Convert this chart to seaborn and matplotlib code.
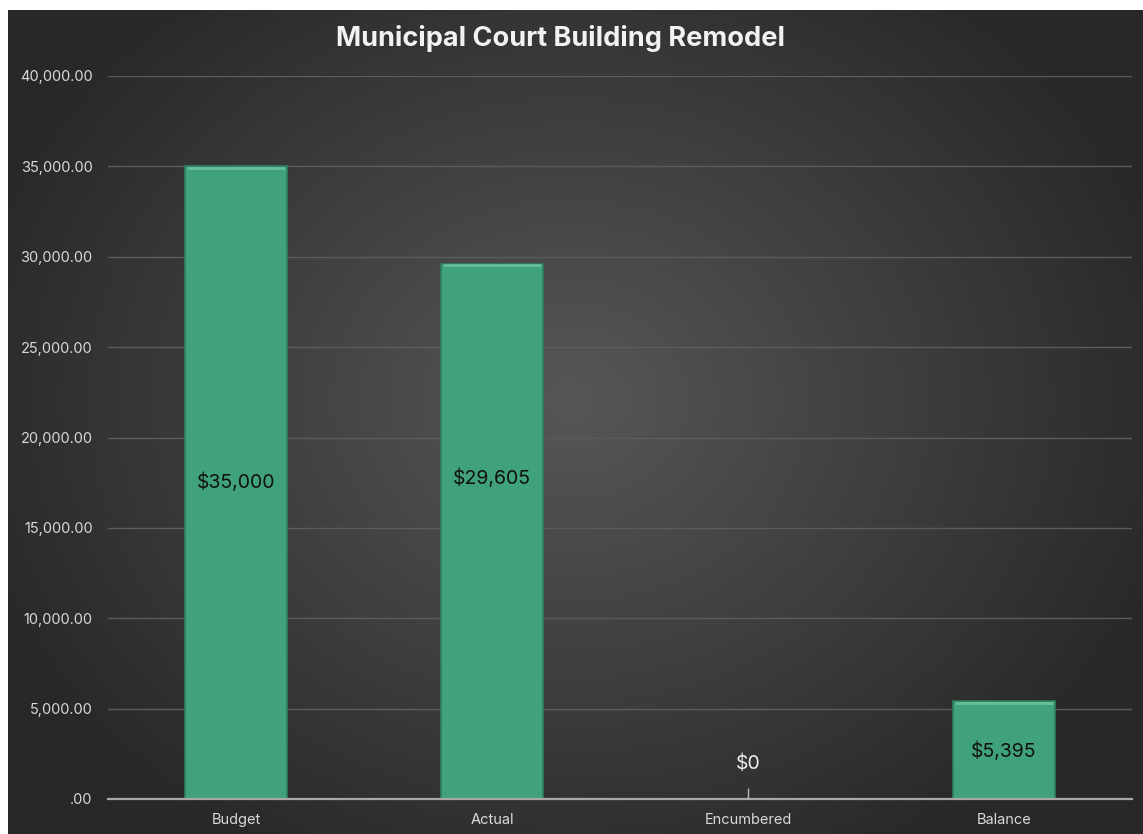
import numpy as np
import pandas as pd
import seaborn as sns
import matplotlib.pyplot as plt
from matplotlib.ticker import FuncFormatter

# Chart data
categories = ["Budget", "Actual", "Encumbered", "Balance"]
amounts = [35000, 29605, 0, 5395]
# where each value label sits, as a fraction of its bar height
label_frac = [0.5, 0.6, None, 0.49]

title = "Municipal Court Building Remodel"

bar_color = "#40a27b"
edge_color = "#2f7f60"
text_light = "#d9d9d9"

sns.set_theme(style="dark")
plt.rcParams["font.family"] = ["Inter", "DejaVu Sans"]

fig = plt.figure(figsize=(11.43, 8.34), dpi=100)
W, H = 1143, 834

# Background: white border at top/left, dark radial gradient panel
bg = fig.add_axes([0, 0, 1, 1], zorder=-10)
bg.set_axis_off()
yy, xx = np.mgrid[0:H, 0:W]
cx, cy = 570, 400
r = np.sqrt(((xx - cx) / 620.0) ** 2 + ((yy - cy) / 520.0) ** 2)
shade = np.clip(0.34 - 0.18 * r, 0.16, 0.34)
img = np.dstack([shade, shade, shade])
img[:10, :, :] = 1.0
img[:, :8, :] = 1.0
bg.imshow(img, extent=[0, W, H, 0], aspect="auto", interpolation="bilinear")
bg.set_xlim(0, W)
bg.set_ylim(H, 0)

# Plot area
left, right = 108 / W, 1132 / W
bottom, top = (H - 799) / H, (H - 76) / H
ax = fig.add_axes([left, bottom, right - left, top - bottom])
ax.set_facecolor("none")

df = pd.DataFrame({"category": categories, "amount": amounts})
sns.barplot(data=df, x="category", y="amount", color=bar_color,
            saturation=1, width=0.4, edgecolor=edge_color, linewidth=1.2,
            ax=ax, zorder=3)

ax.set_ylim(0, 40000)
ax.set_xlim(-0.5, len(categories) - 0.5)
ax.set_yticks(np.arange(0, 40001, 5000))
ax.yaxis.set_major_formatter(
    FuncFormatter(lambda v, p: ".00" if v == 0 else f"{v:,.2f}"))
ax.grid(axis="y", color="#5c5c5c", linewidth=1.0, zorder=0)
ax.grid(axis="x", visible=False)
for s in ["top", "right", "left"]:
    ax.spines[s].set_visible(False)
ax.spines["bottom"].set_color("#a8a8a8")
ax.spines["bottom"].set_linewidth(1.6)
ax.spines["bottom"].set_zorder(4)
ax.tick_params(axis="y", colors=text_light, labelsize=10.5, length=0, pad=11)
ax.tick_params(axis="x", colors=text_light, labelsize=10.5, length=0, pad=10)
ax.set_xlabel("")
ax.set_ylabel("")

# Soft top highlight on each bar (bevel look)
for patch in ax.patches:
    h = patch.get_height()
    if h > 0:
        x0 = patch.get_x()
        w = patch.get_width()
        ax.plot([x0 + 0.008, x0 + w - 0.008], [h - 80, h - 80],
                color="#72c7a3", linewidth=2, alpha=0.8, zorder=4,
                solid_capstyle="butt")

# Value labels
for i, (v, f) in enumerate(zip(amounts, label_frac)):
    txt = f"${v:,.0f}"
    if v > 0:
        ax.text(i, v * f, txt, ha="center", va="center", fontsize=14,
                color="#111111", zorder=5)
    else:
        ax.text(i, 1950, txt, ha="center", va="center", fontsize=14,
                color="#eeeeee", zorder=5)
        ax.vlines(i, 0, 620, color="#bbbbbb", linewidth=1, zorder=5)

fig.text(560 / W, 1 - 39 / H, title, ha="center", va="center",
         fontsize=19.5, fontweight="bold", color="#f2f2f2")

fig.savefig("out.png", dpi=100)
